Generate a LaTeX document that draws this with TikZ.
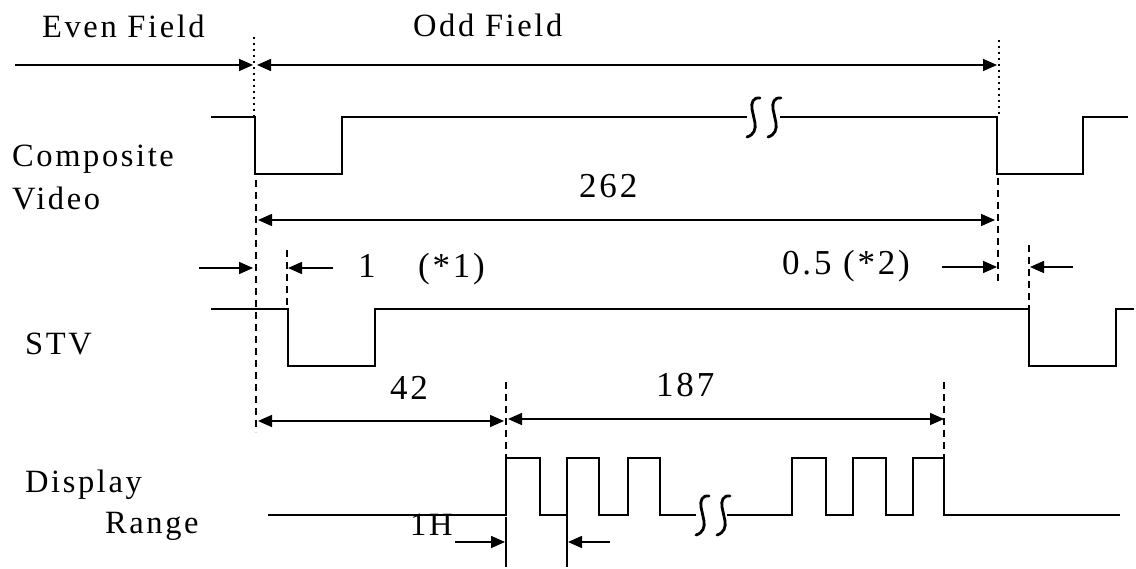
\documentclass[tikz,border=0pt]{standalone}
\usepackage{fontspec}
\setmainfont{Liberation Serif}[LetterSpace=8]
\usetikzlibrary{arrows.meta}
\begin{document}
\begin{tikzpicture}[x=1pt,y=-1pt,
  wave/.style={line width=2.8pt, line join=miter, line cap=butt},
  tipA/.tip={Triangle[length=14pt,width=12pt]},
  dim/.style={line width=1.6pt, -tipA},
  dimboth/.style={line width=1.6pt, tipA-tipA},
  guide/.style={line width=1.2pt, dash pattern=on 7pt off 5pt},
  dotguide/.style={line width=2.4pt, dash pattern=on 2pt off 4pt},
  tickline/.style={line width=1.3pt},
  lbl/.style={anchor=base west, inner sep=0pt, font=\fontsize{32.5}{38}\selectfont},
  num/.style={anchor=base west, inner sep=0pt, font=\fontsize{35}{40}\selectfont},
  brkmark/.pic={\draw[line width=2.8pt, line cap=round] (7,-19) .. controls (0,-20) and (-2,-14) .. (-1,-8) -- (2,6) .. controls (3,12) and (1,18) .. (-6,20);}]

\useasboundingbox (0,0) rectangle (1136,569);

% ---- labels ----
\node[lbl] (even) at (42,38) {Even Field};
\node[lbl] (odd) at (413,37) {Odd Field};
\node[lbl] (comp) at (12,167) {Composite};
\node[lbl] (video) at (12,210) {Video};
\node[num] (n262) at (579,198) {262};
\node[num] (n1) at (358,278) {1};
\node[num] (s1) at (418,278) {(*1)};
\node[num] (n05) at (782,275) {0.5 (*2)};
\node[lbl] (stv) at (25,355) {STV};
\node[num] (n42) at (390,400) {42};
\node[num] (n187) at (656,397) {187};
\node[lbl] (disp) at (25,492) {Display};
\node[lbl] (range) at (105,533) {Range};
\node[lbl] (h1) at (410,535) {1H};

% ---- coordinates ----
\coordinate (fa) at (15,65);   \coordinate (fb) at (253,65);
\coordinate (fc) at (257,65);  \coordinate (fd) at (997,65);
\coordinate (ta) at (258,220); \coordinate (tb) at (995,220);
\coordinate (oa) at (199,268); \coordinate (ob) at (253,268);
\coordinate (oc) at (333,268); \coordinate (od) at (288,268);
\coordinate (ha) at (942,267); \coordinate (hb) at (997,267);
\coordinate (hc) at (1073,267);\coordinate (hd) at (1030,267);
\coordinate (qa) at (258,421); \coordinate (qb) at (504,421);
\coordinate (ra) at (508,419); \coordinate (rb) at (944,419);
\coordinate (la) at (455,542); \coordinate (lb) at (505,542);
\coordinate (lc) at (610,542); \coordinate (ld) at (568,542);

% ---- waveforms ----
\draw[wave] (211,117) -- (255,117) -- (255,174) -- (342,174) -- (342,117) -- (747,117);
\draw[wave] (780,117) -- (997,117) -- (997,174) -- (1083,174) -- (1083,117) -- (1128,117);
\pic at (753,117) {brkmark};
\pic at (774,117) {brkmark};

\draw[wave] (211,309) -- (288,309) -- (288,366) -- (375,366) -- (375,309) -- (1029,309) -- (1029,366) -- (1116,366) -- (1116,309) -- (1134,309);

\draw[wave] (268,515) -- (506,515) -- (506,458) -- (540,458) -- (540,515) -- (567,515) -- (567,458) -- (599,458) -- (599,515) -- (628,515) -- (628,458) -- (660,458) -- (660,515) -- (696,515);
\draw[wave] (727,515) -- (792,515) -- (792,458) -- (826,458) -- (826,515) -- (853,515) -- (853,458) -- (886,458) -- (886,515) -- (913,515) -- (913,458) -- (944,458) -- (944,515) -- (1120,515);
\pic at (702,515) {brkmark};
\pic at (723,515) {brkmark};

% ---- guides ----
\draw[dotguide] (254,37) -- (254,117);
\draw[dotguide] (999,40) -- (999,117);
\draw[guide] (256,180) -- (256,432);
\draw[guide] (287,250) -- (287,308);
\draw[guide] (998,178) -- (998,285);
\draw[guide] (1029,245) -- (1029,308);
\draw[guide] (506,382) -- (506,457);
\draw[guide] (944,382) -- (944,457);
\draw[tickline] (506,517) -- (506,567);
\draw[tickline] (567,512) -- (567,567);

% ---- dimension arrows ----
\draw[dim] (fa) -- (fb);
\draw[dimboth] (fc) -- (fd);
\draw[dimboth] (ta) -- (tb);
\draw[dim] (oa) -- (ob);
\draw[dim] (oc) -- (od);
\draw[dim] (ha) -- (hb);
\draw[dim] (hc) -- (hd);
\draw[dimboth] (qa) -- (qb);
\draw[dimboth] (ra) -- (rb);
\draw[dim] (la) -- (lb);
\draw[dim] (lc) -- (ld);
\end{tikzpicture}
\end{document}
